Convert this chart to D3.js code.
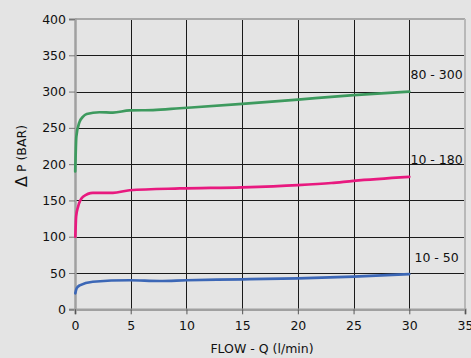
<!DOCTYPE html>
<html><head><meta charset="utf-8">
<script src="https://cdn.jsdelivr.net/npm/d3@7"></script>
<style>
html,body{margin:0;padding:0;background:#e4e4e4;}
svg{display:block;}
text{font-family:"DejaVu Sans",sans-serif;fill:#111;}
</style></head><body>
<svg id="c" width="471" height="358"></svg>
<script>
const xTicks = [0,5,10,15,20,25,30,35];
const yTicks = [0,50,100,150,200,250,300,350,400];
const seriesNames = ["80 - 300","10 - 180","10 - 50"];
const seriesColors = ["#3d9a5e","#e8197f","#3c67b6"];
const green = [[0.02,190],[0.12,238],[0.4,258],[0.7,265],[1.05,269],[2.2,271.5],[3.4,271],[4.9,274],[7,274.5],[9.4,277],[15,283],[20,289],[25,295],[30,300]];
const pink = [[0.03,100],[0.1,128],[0.27,141],[0.72,155],[1.6,160.5],[3.4,160.5],[4.9,164],[9.4,166.5],[15,168],[20,171],[23,174],[25,177],[30,182.5]];
const blue = [[0.03,22],[0.15,29],[0.42,33],[1.6,38],[4.9,40],[7.6,39],[10,40],[15,41.3],[20,42.7],[25,45],[30,48.6]];
const seriesData = [green,pink,blue];

const svg = d3.select("#c");
const L=75, R=465, T=19, B=309.3;
const x = d3.scaleLinear().domain([0,35]).range([L,R]);
const y = d3.scaleLinear().domain([0,400]).range([B,T]);

// grid
svg.append("g").selectAll("line").data(yTicks.filter(d=>d>0&&d<400)).join("line")
  .attr("x1",L).attr("x2",R).attr("y1",d=>Math.round(y(d))+0.5).attr("y2",d=>Math.round(y(d))+0.5)
  .attr("stroke","#1a1a1a").attr("stroke-width",1);
svg.append("g").selectAll("line").data(xTicks.filter(d=>d>0&&d<35)).join("line")
  .attr("y1",T).attr("y2",B).attr("x1",d=>Math.round(x(d))+0.5).attr("x2",d=>Math.round(x(d))+0.5)
  .attr("stroke","#1a1a1a").attr("stroke-width",1);
// borders
svg.append("line").attr("x1",L).attr("x2",R).attr("y1",T).attr("y2",T).attr("stroke","#a8a8a8").attr("stroke-width",2);
svg.append("line").attr("x1",R).attr("x2",R).attr("y1",T).attr("y2",B).attr("stroke","#b8b8b8").attr("stroke-width",2);

// axes
const yAxis = d3.axisLeft(y).tickValues(yTicks).tickSize(6).tickPadding(3);
const gy = svg.append("g").attr("transform",`translate(${L},0)`).call(yAxis);
gy.select(".domain").attr("stroke","#a0a0a0").attr("stroke-width",2.5);
gy.selectAll(".tick line").attr("stroke","#777");
gy.selectAll(".tick text").attr("font-size","12.5px").attr("font-family","DejaVu Sans").attr("fill","#111");

const xAxis = d3.axisBottom(x).tickValues(xTicks).tickSize(5).tickPadding(7);
const gx = svg.append("g").attr("transform",`translate(0,${B})`).call(xAxis);
gx.select(".domain").attr("stroke","#a0a0a0").attr("stroke-width",2.5);
gx.selectAll(".tick line").attr("stroke","#555");
gx.selectAll(".tick text").attr("font-size","12.5px").attr("font-family","DejaVu Sans").attr("fill","#111");

// lines
const line = d3.line().x(d=>x(d[0])).y(d=>y(d[1])).curve(d3.curveMonotoneX);
seriesData.forEach((s,i)=>{
  svg.append("path").datum(s).attr("d",line).attr("fill","none")
    .attr("stroke",seriesColors[i]).attr("stroke-width",2.7).attr("stroke-linecap","round").attr("stroke-linejoin","round");
  const last = s[s.length-1];
  svg.append("text").attr("x",x(32.45)).attr("y",y(last[1])-16)
    .attr("text-anchor","middle").attr("dominant-baseline","middle")
    .attr("font-size","12.5px").text(seriesNames[i]);
});

// titles
svg.append("text").attr("x",262).attr("y",349).attr("text-anchor","middle").attr("dominant-baseline","middle")
  .attr("font-size","12.5px").text("FLOW - Q (l/min)");
const yt = svg.append("text").attr("transform","translate(22,156) rotate(-90)").attr("text-anchor","middle").attr("dominant-baseline","middle")
  .attr("font-size","12.5px");
yt.append("tspan").attr("font-size","16px").text("Δ");
yt.append("tspan").text(" P (BAR)");
</script>
</body></html>
